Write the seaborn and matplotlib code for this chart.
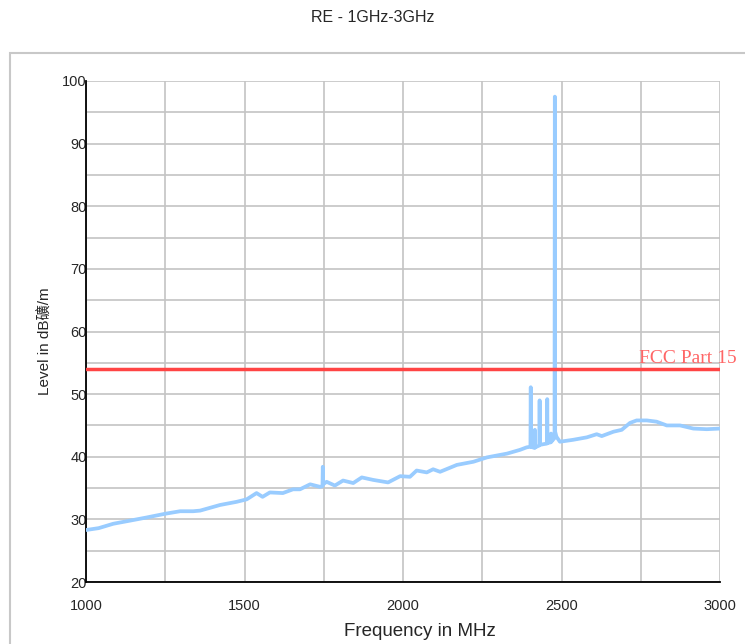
import matplotlib
matplotlib.use("Agg")
import matplotlib.pyplot as plt
from matplotlib.patches import Rectangle
from matplotlib.ticker import MultipleLocator
import seaborn as sns
import pandas as pd

# ---- data ----
freq_mhz = [1000, 1040, 1086, 1139, 1191, 1250, 1297, 1338, 1360, 1423, 1475, 1507,
            1538, 1557, 1580, 1621, 1653, 1675, 1707, 1738, 1746, 1747, 1748, 1759,
            1785, 1811, 1843, 1870, 1906, 1953, 1991, 2022, 2043, 2075, 2095, 2117,
            2170, 2222, 2265, 2328, 2369, 2390, 2402, 2403, 2404, 2415, 2416, 2417,
            2430, 2431, 2432, 2442, 2454, 2455, 2456, 2466, 2467, 2468, 2478, 2479,
            2480, 2484, 2495, 2536, 2580, 2611, 2627, 2664, 2690, 2716, 2737, 2769,
            2800, 2832, 2874, 2916, 2958, 3000]
level_db = [28.3, 28.6, 29.3, 29.8, 30.3, 30.9, 31.3, 31.3, 31.4, 32.3, 32.8, 33.2,
            34.2, 33.6, 34.3, 34.2, 34.8, 34.8, 35.6, 35.2, 35.3, 38.4, 35.6, 36.0,
            35.4, 36.2, 35.8, 36.7, 36.3, 35.9, 36.9, 36.8, 37.8, 37.5, 38.0, 37.6,
            38.7, 39.2, 39.9, 40.5, 41.1, 41.5, 41.6, 51.1, 41.6, 41.4, 44.3, 41.5,
            41.8, 49.0, 41.9, 42.0, 42.1, 49.2, 42.2, 42.3, 43.7, 42.4, 43.0, 97.5,
            44.0, 43.2, 42.4, 42.7, 43.1, 43.6, 43.3, 44.0, 44.3, 45.4, 45.8, 45.8,
            45.6, 45.0, 45.0, 44.5, 44.4, 44.5]
limit_db = 54.0
limit_label = "FCC Part 15"
title = "RE - 1GHz-3GHz"
xlabel = "Frequency in MHz"
ylabel = "Level in dB礦/m"

df = pd.DataFrame({"freq": freq_mhz, "level": level_db})

sns.set_style("white")
plt.rcParams["font.family"] = ["Liberation Sans", "Noto Sans CJK SC", "DejaVu Sans"]

fig = plt.figure(figsize=(7.45, 6.44), dpi=100)
ax = fig.add_axes([86 / 745, 1 - 582 / 644, (720 - 86) / 745, (582 - 81) / 644])

# outer frame
fig.patches.append(Rectangle((10 / 745, -0.2), 1.2, 0.2 + (1 - 53 / 644),
                             transform=fig.transFigure, fill=False,
                             edgecolor="#c8c8c8", linewidth=1.5, zorder=0))

sns.lineplot(data=df, x="freq", y="level", ax=ax, estimator=None, sort=False,
             color="#99ccff", linewidth=2.7, zorder=3)
ax.axhline(limit_db, color="#ff4444", linewidth=2.5, zorder=4)
ax.text(2744, limit_db + 0.4, limit_label, color="#ff6666", fontsize=14,
        family=["Liberation Serif"], ha="left", va="bottom", clip_on=False, zorder=5)

ax.set_xlim(1000, 3000)
ax.set_ylim(20, 100)
ax.xaxis.set_major_locator(MultipleLocator(500))
ax.xaxis.set_minor_locator(MultipleLocator(250))
ax.yaxis.set_major_locator(MultipleLocator(10))
ax.yaxis.set_minor_locator(MultipleLocator(5))
ax.grid(True, which="both", color="#c4c4c4", linewidth=1.2, zorder=0)
ax.set_axisbelow(True)

for s in ["top", "right"]:
    ax.spines[s].set_visible(False)
for s in ["left", "bottom"]:
    ax.spines[s].set_color("black")
    ax.spines[s].set_linewidth(1.3)

ax.tick_params(axis="both", which="both", direction="inout", length=5, width=1.2,
               color="black")
ax.tick_params(axis="y", which="major", pad=-3, labelsize=10.5)
ax.tick_params(axis="x", which="major", pad=10, labelsize=10.5)

ax.set_xlabel(xlabel, fontsize=13.5)
ax.xaxis.set_label_coords((420 - 86) / 634, -(632 - 582) / 501, transform=ax.transAxes)
ax.xaxis.label.set_va("center")
ax.set_ylabel(ylabel, fontsize=11)
ax.yaxis.set_label_coords(-(86 - 45) / 634, (582 - 341) / 501, transform=ax.transAxes)
ax.yaxis.label.set_va("center")
fig.suptitle(title, y=1 - 17 / 644, va="center", fontsize=11.5)

fig.savefig("out.png", dpi=100)
